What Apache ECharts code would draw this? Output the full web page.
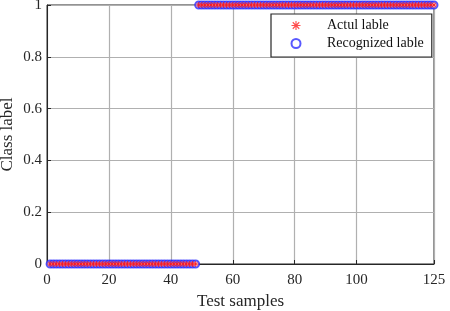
<!DOCTYPE html>
<html>
<head>
<meta charset="utf-8">
<script src="https://cdn.jsdelivr.net/npm/echarts@6/dist/echarts.min.js"></script>
<style>html,body{margin:0;padding:0;background:#fff}#c{width:450px;height:311px}</style>
</head>
<body>
<div id="c"></div>
<script>
var samples = [1,2,3,4,5,6,7,8,9,10,11,12,13,14,15,16,17,18,19,20,21,22,23,24,25,26,27,28,29,30,31,32,33,34,35,36,37,38,39,40,41,42,43,44,45,46,47,48,49,50,51,52,53,54,55,56,57,58,59,60,61,62,63,64,65,66,67,68,69,70,71,72,73,74,75,76,77,78,79,80,81,82,83,84,85,86,87,88,89,90,91,92,93,94,95,96,97,98,99,100,101,102,103,104,105,106,107,108,109,110,111,112,113,114,115,116,117,118,119,120,121,122,123,124,125];
var actualLabels = [0,0,0,0,0,0,0,0,0,0,0,0,0,0,0,0,0,0,0,0,0,0,0,0,0,0,0,0,0,0,0,0,0,0,0,0,0,0,0,0,0,0,0,0,0,0,0,0,1,1,1,1,1,1,1,1,1,1,1,1,1,1,1,1,1,1,1,1,1,1,1,1,1,1,1,1,1,1,1,1,1,1,1,1,1,1,1,1,1,1,1,1,1,1,1,1,1,1,1,1,1,1,1,1,1,1,1,1,1,1,1,1,1,1,1,1,1,1,1,1,1,1,1,1,1];
var recognizedLabels = [0,0,0,0,0,0,0,0,0,0,0,0,0,0,0,0,0,0,0,0,0,0,0,0,0,0,0,0,0,0,0,0,0,0,0,0,0,0,0,0,0,0,0,0,0,0,0,0,1,1,1,1,1,1,1,1,1,1,1,1,1,1,1,1,1,1,1,1,1,1,1,1,1,1,1,1,1,1,1,1,1,1,1,1,1,1,1,1,1,1,1,1,1,1,1,1,1,1,1,1,1,1,1,1,1,1,1,1,1,1,1,1,1,1,1,1,1,1,1,1,1,1,1,1,1];
var xTicks = [0,20,40,60,80,100,125];
var yTicks = [0,0.2,0.4,0.6,0.8,1];
var seriesNames = ['Actul lable','Recognized lable'];

var font = '"Liberation Serif","Times New Roman",serif';
var star = 'path://M0,-5L0,5M-5,0L5,0M-3.6,-3.6L3.6,3.6M-3.6,3.6L3.6,-3.6';
function pairs(ys){ return samples.map(function(s,i){ return [s, ys[i]]; }); }

var chart = echarts.init(document.getElementById('c'), null, {renderer:'canvas'});
chart.setOption({
  animation:false,
  backgroundColor:'#fff',
  grid:{left:47,right:16,top:5,bottom:47,show:true,borderColor:'#262626',borderWidth:1,containLabel:false,outerBoundsMode:'none'},
  xAxis:{
    type:'value',min:0,max:125,
    name:'Test samples',nameLocation:'middle',nameGap:29,nameMoveOverlap:false,
    nameTextStyle:{fontFamily:font,fontSize:17,color:'#262626'},
    axisLine:{show:true,onZero:false,lineStyle:{color:'#262626',width:1}},
    axisTick:{show:true,inside:true,length:4,customValues:xTicks,lineStyle:{color:'#262626'}},
    axisLabel:{customValues:xTicks,fontFamily:font,fontSize:15,color:'#262626',margin:9},
    splitLine:{show:true,lineStyle:{color:'#b0b0b0',width:1.2}}
  },
  yAxis:{
    type:'value',min:0,max:1,interval:0.2,
    name:'Class label',nameLocation:'middle',nameGap:31,nameMoveOverlap:false,
    nameTextStyle:{fontFamily:font,fontSize:17,color:'#262626'},
    axisLine:{show:true,lineStyle:{color:'#262626',width:1}},
    axisTick:{show:true,inside:true,length:4,lineStyle:{color:'#262626'}},
    axisLabel:{fontFamily:font,fontSize:15,color:'#262626',margin:5,
      formatter:function(v){return String(Math.round(v*10)/10);}},
    splitLine:{show:true,lineStyle:{color:'#b0b0b0',width:1.2}}
  },
  legend:{
    orient:'vertical',left:271,top:14,
    backgroundColor:'#fff',borderColor:'#262626',borderWidth:1.2,
    padding:[3,8,5,19.5],itemGap:1,itemWidth:9,itemHeight:9,
    textStyle:{fontFamily:font,fontSize:14,color:'#111',lineHeight:17,padding:[0,0,0,21.5]},
    data:[
      {name:seriesNames[0],icon:star,itemStyle:{color:'#ff2020',borderColor:'#ff2020',borderWidth:1.1}},
      {name:seriesNames[1],icon:'emptyCircle',itemStyle:{color:'#3030ff',borderColor:'#3030ff',borderWidth:1.1}}
    ]
  },
  series:[
    {name:seriesNames[1],type:'scatter',data:pairs(recognizedLabels),symbol:'emptyCircle',symbolSize:7,
     itemStyle:{color:'#2a2aff',borderColor:'#2a2aff',borderWidth:1.1},z:3},
    {name:seriesNames[0],type:'scatter',data:pairs(actualLabels),symbol:star,symbolSize:6,
     itemStyle:{color:'#ff1a1a',borderColor:'#ff1a1a',borderWidth:1},z:4}
  ]
});
</script>
</body>
</html>
